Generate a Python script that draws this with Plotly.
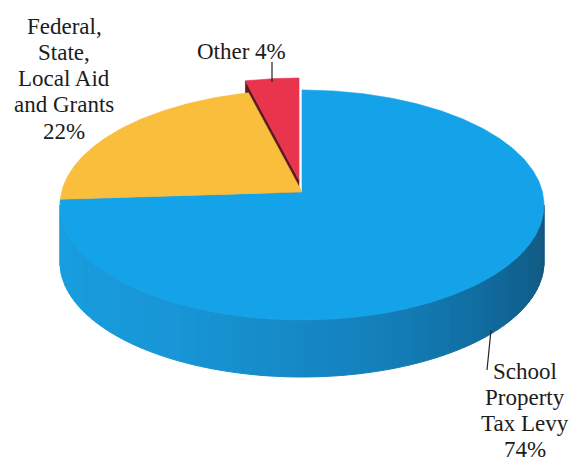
import numpy as np
import plotly.graph_objects as go

# ---- data ----
labels = ["School Property Tax Levy", "Federal, State, Local Aid and Grants", "Other"]
shares = [74, 22, 4]
label_lines = [["School", "Property", "Tax Levy"],
               ["Federal,", "State,", "Local Aid", "and Grants"],
               ["Other"]]

# ---- style / geometry ----
top_colors = ["#14a2e8", "#f9be3c", "#e8344d"]
face_colors = ["#1580bb", "#c98f1f", "#5a1a22"]
pull = {"Other": (-3, -12)}
CX, CY, RX, RY = 302.0, 205.0, 242.0, 115.0
APX, APY = 302.0, 192.0
K = RY / RX
DEPTH = 57.0


def ell(phi):
    p = np.radians(phi)
    return CX + RX * np.cos(p), CY - RY * np.sin(p)


def hit(theta):
    t = np.radians(theta)
    dx, dy = np.cos(t), -np.sin(t) * K
    ox, oy = APX - CX, APY - CY
    A = (dx / RX) ** 2 + (dy / RY) ** 2
    B = 2 * (ox * dx / RX ** 2 + oy * dy / RY ** 2)
    C = (ox / RX) ** 2 + (oy / RY) ** 2 - 1
    s = (-B + np.sqrt(B * B - 4 * A * C)) / (2 * A)
    x, y = APX + s * dx, APY + s * dy
    return np.degrees(np.arctan2(-(y - CY) / RY, (x - CX) / RX))


slices = []
theta0 = 90.0
for lab, sh in zip(labels, shares):
    theta1 = theta0 - sh * 3.6
    p0 = hit(theta0)
    p1 = hit(theta1)
    while p1 > p0 + 1e-6:
        p1 -= 360
    slices.append((lab, p0, p1))
    theta0 = theta1

fig = go.Figure()


def poly(xs, ys, color, lw=0.6):
    fig.add_trace(go.Scatter(x=list(xs) + [xs[0]], y=list(ys) + [ys[0]], mode="lines",
                             fill="toself", fillcolor=color,
                             line=dict(color=color, width=lw),
                             hoverinfo="skip", showlegend=False))


def top_face(i, p0, p1, off=(0, 0)):
    phis = np.linspace(p0, p1, max(8, int(abs(p1 - p0) * 1.5)))
    ex, ey = ell(phis)
    xs = [APX + off[0]] + list(ex + off[0])
    ys = [APY + off[1]] + list(ey + off[1])
    poly(xs, ys, top_colors[i])


for i, (lab, p0, p1) in enumerate(slices):
    if lab in pull:
        ox, oy = pull[lab]
        bx, by = ell(p0)
        xs = [APX + ox, bx + ox, bx + ox, APX + ox]
        ys = [APY + oy, by + oy, by + oy + DEPTH, APY + oy + DEPTH]
        poly(xs, ys, face_colors[i])
        top_face(i, p0, p1, (ox, oy))

stops_phi = [180, 240, 290, 330, 360]
stops_rgb = np.array([[24, 160, 226], [24, 150, 214], [20, 128, 186], [16, 100, 148], [20, 88, 126]])


def side_color(phi):
    r = [np.interp(phi, stops_phi, stops_rgb[:, k]) for k in range(3)]
    return "rgb(%d,%d,%d)" % tuple(int(v) for v in r)


for i, (lab, p0, p1) in enumerate(slices):
    if lab in pull:
        continue
    lo, hi = p1 + 360, p0 + 360
    a0, a1 = max(lo, 180), min(hi, 360)
    if a1 <= a0:
        continue
    edges = np.arange(a0, a1 + 1e-9, 2.0)
    if edges[-1] < a1:
        edges = np.append(edges, a1)
    for a, b in zip(edges[:-1], edges[1:]):
        ph = np.linspace(a, b, 4)
        ex, ey = ell(ph)
        xs = list(ex) + list(ex[::-1])
        ys = list(ey) + list(ey[::-1] + DEPTH)
        col = side_color((a + b) / 2) if i == 0 else face_colors[i]
        poly(xs, ys, col, lw=1.0)

for i, (lab, p0, p1) in enumerate(slices):
    if lab not in pull:
        top_face(i, p0, p1)

# ---- labels ----
FONT = dict(family="Liberation Serif, Times New Roman, serif", size=23, color="#1c1c1c")
label_pos = {
    "School Property Tax Levy": (525, 371),
    "Federal, State, Local Aid and Grants": (64, 26),
    "Other": (241, 51),
}
LINE_H = 26.3
for lab, sh, lines in zip(labels, shares, label_lines):
    if len(lines) == 1:
        texts = [f"{lines[0]} {sh}%"]
    else:
        texts = lines + [f"{sh}%"]
    x0, y0 = label_pos[lab]
    for k, t in enumerate(texts):
        fig.add_annotation(x=x0, y=y0 + k * LINE_H, text=t, showarrow=False,
                           xanchor="center", yanchor="middle", font=FONT)

fig.add_shape(type="line", x0=272, y0=62, x1=272, y1=82, line=dict(color="#222", width=1.2))
fig.add_shape(type="line", x0=491, y0=330, x1=487, y1=370, line=dict(color="#222", width=1.2))

fig.update_layout(
    width=572, height=462, autosize=False,
    margin=dict(l=0, r=0, t=0, b=0),
    paper_bgcolor="white", plot_bgcolor="white",
    xaxis=dict(range=[0, 572], visible=False, fixedrange=True),
    yaxis=dict(range=[462, 0], visible=False, fixedrange=True),
    showlegend=False,
)

fig.write_html("out.html")
